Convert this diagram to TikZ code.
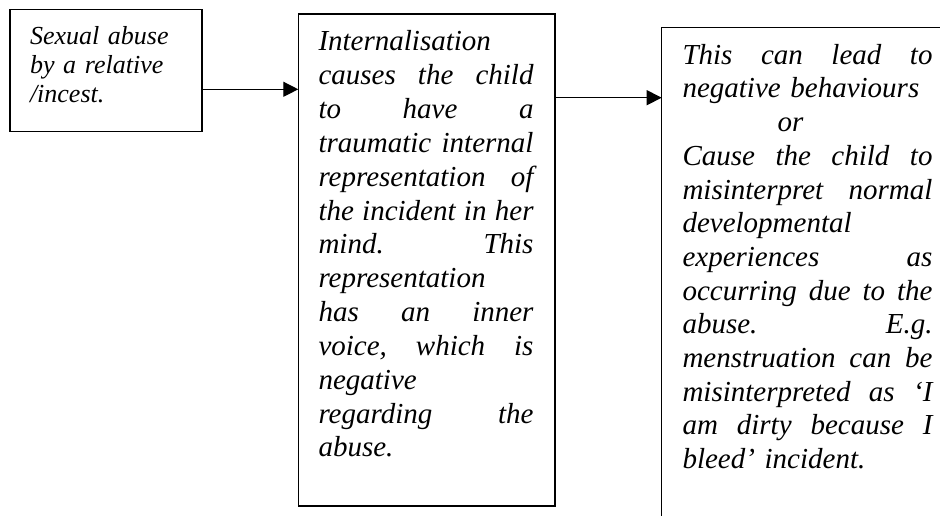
\documentclass[tikz,border=0pt]{standalone}
\usepackage{fontspec}
\setmainfont{Liberation Serif}
\usetikzlibrary{arrows.meta}
\newcommand\jline[2]{\makebox[#1][l]{#2}}
\begin{document}
\begin{tikzpicture}[x=1pt,y=-1pt,
  boxstyle/.style={draw,line width=1.5pt,inner sep=0pt,outer sep=0pt,anchor=north west},
  txt/.style={anchor=base west,inner sep=0pt,outer sep=0pt,align=left},
  conn/.style={line width=1.3pt,-{Triangle[length=15pt,width=15pt]}}]
\useasboundingbox (0,0) rectangle (940,516);
\fill[white] (0,0) rectangle (940,516);
\clip (0,0) rectangle (940,516);
% boxes
\node[boxstyle,minimum width=192pt,minimum height=122.2pt] (b1) at (10,9.5) {};
\node[boxstyle,minimum width=256.7pt,minimum height=492pt] (b2) at (298.3,14) {};
\node[boxstyle,minimum width=400pt,minimum height=600pt] (b3) at (661.7,27.7) {};
% texts
\node[txt,text width=180pt,font=\fontsize{26}{28.8}\selectfont\itshape] (t1) at (30,45)
  {Sexual abuse\\by a relative\\/incest.};
\node[txt,text width=215pt,font=\fontsize{29}{33.83}\selectfont\itshape] (t2) at (318.5,51)
  {Internalisation\\
   \jline{215pt}{causes\hfill the\hfill child}\\
   \jline{215pt}{to\hfill have\hfill a}\\
   \jline{215pt}{traumatic\hfill internal}\\
   \jline{215pt}{representation\hfill of}\\
   \jline{215pt}{the\hfill incident\hfill in\hfill her}\\
   \jline{215pt}{mind.\hfill This}\\
   representation\\
   \jline{215pt}{has\hfill an\hfill inner}\\
   \jline{215pt}{voice,\hfill which\hfill is}\\
   negative\\
   \jline{215pt}{regarding\hfill the}\\
   abuse.};
\node[txt,text width=250pt,font=\fontsize{29}{33.7}\selectfont\itshape] (t3) at (682.5,64.3)
  {\jline{250pt}{This\hfill can\hfill lead\hfill to}\\
   negative behaviours\\
   \hspace*{95pt}or\\
   \jline{250pt}{Cause\hfill the\hfill child\hfill to}\\
   \jline{250pt}{misinterpret\hfill normal}\\
   developmental\\
   \jline{250pt}{experiences\hfill as}\\
   \jline{250pt}{occurring\hfill due\hfill to\hfill the}\\
   \jline{250pt}{abuse.\hfill E.g.}\\
   \jline{250pt}{menstruation\hfill can\hfill be}\\
   \jline{250pt}{misinterpreted\hfill as\hfill ‘I}\\
   \jline{250pt}{am\hfill dirty\hfill because\hfill I}\\
   bleed’ incident.};
% connectors
\coordinate (a1) at (0,89.3);
\coordinate (a2) at (0,97.7);
\draw[conn] (b1.east |- a1) -- (b2.west |- a1);
\draw[conn] (b2.east |- a2) -- (b3.west |- a2);
\end{tikzpicture}
\end{document}
